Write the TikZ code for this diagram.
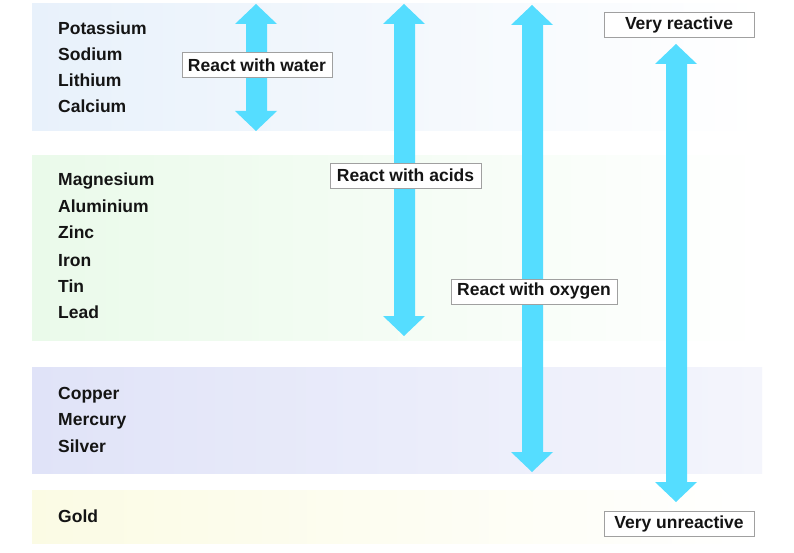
\documentclass[tikz,border=0pt]{standalone}
\usepackage{fontspec}
\setmainfont{Liberation Sans}
\definecolor{arrowc}{RGB}{85,221,255}
\definecolor{boxline}{RGB}{160,160,160}
\definecolor{txt}{RGB}{20,20,20}
\definecolor{bandA}{RGB}{232,241,251}
\definecolor{bandB}{RGB}{234,250,234}
\definecolor{bandC}{RGB}{224,227,248}
\definecolor{bandCr}{RGB}{244,245,252}
\definecolor{bandD}{RGB}{251,251,228}
\begin{document}
\begin{tikzpicture}[x=1pt,y=-1pt,
  metal/.style={anchor=base west,font=\fontsize{17.5}{20}\selectfont\bfseries,text=txt,inner sep=0pt},
  tag/.style={draw=boxline,line width=0.9pt,fill=white,font=\fontsize{17.5}{20}\selectfont\bfseries,text=txt,inner sep=0pt,minimum height=25pt},
  arr/.style={fill=arrowc,draw=none}]
\useasboundingbox (0,0) rectangle (794,553);
\fill[white] (0,0) rectangle (794,553);
% bands
\shade[left color=bandA,right color=white] (32,4) rectangle (762,131);
\shade[left color=bandB,right color=white] (32,156) rectangle (762,340);
\shade[left color=bandC,right color=bandCr] (32,367) rectangle (762,473);
\shade[left color=bandD,right color=white] (32,490) rectangle (762,543);
% double arrows: centre x, top tip, bottom tip
\foreach \cx/\yt/\yb in {256/4/131, 404/4/336, 532/5/472, 676/44/502}{
  \fill[arr] (\cx,\yt) -- (\cx+21,\yt+20) -- (\cx+11,\yt+20) -- (\cx+11,\yb-20)
    -- (\cx+21,\yb-20) -- (\cx,\yb) -- (\cx-21,\yb-20) -- (\cx-10,\yb-20)
    -- (\cx-10,\yt+20) -- (\cx-21,\yt+20) -- cycle;
}
% metals
\node[metal] (k)  at (58,35)  {Potassium};
\node[metal] (na) at (58,61)  {Sodium};
\node[metal] (li) at (58,87)  {Lithium};
\node[metal] (ca) at (58,113) {Calcium};
\node[metal] (mg) at (58,186) {Magnesium};
\node[metal] (al) at (58,213) {Aluminium};
\node[metal] (zn) at (58,239) {Zinc};
\node[metal] (fe) at (58,266) {Iron};
\node[metal] (sn) at (58,292) {Tin};
\node[metal] (pb) at (58,318) {Lead};
\node[metal] (cu) at (58,399) {Copper};
\node[metal] (hg) at (58,425) {Mercury};
\node[metal] (ag) at (58,452) {Silver};
\node[metal] (au) at (58,522) {Gold};
% labels
\node[tag,minimum width=150pt] (water) at (257,65) {React with water};
\node[tag,minimum width=151pt] (acids) at (405.5,175.5) {React with acids};
\node[tag,minimum width=166pt] (oxy) at (534,291.5) {React with oxygen};
\node[tag,minimum width=150pt] (vr) at (679,24.5) {Very reactive};
\node[tag,minimum width=150pt] (vu) at (679,524) {Very unreactive};
\end{tikzpicture}
\end{document}
